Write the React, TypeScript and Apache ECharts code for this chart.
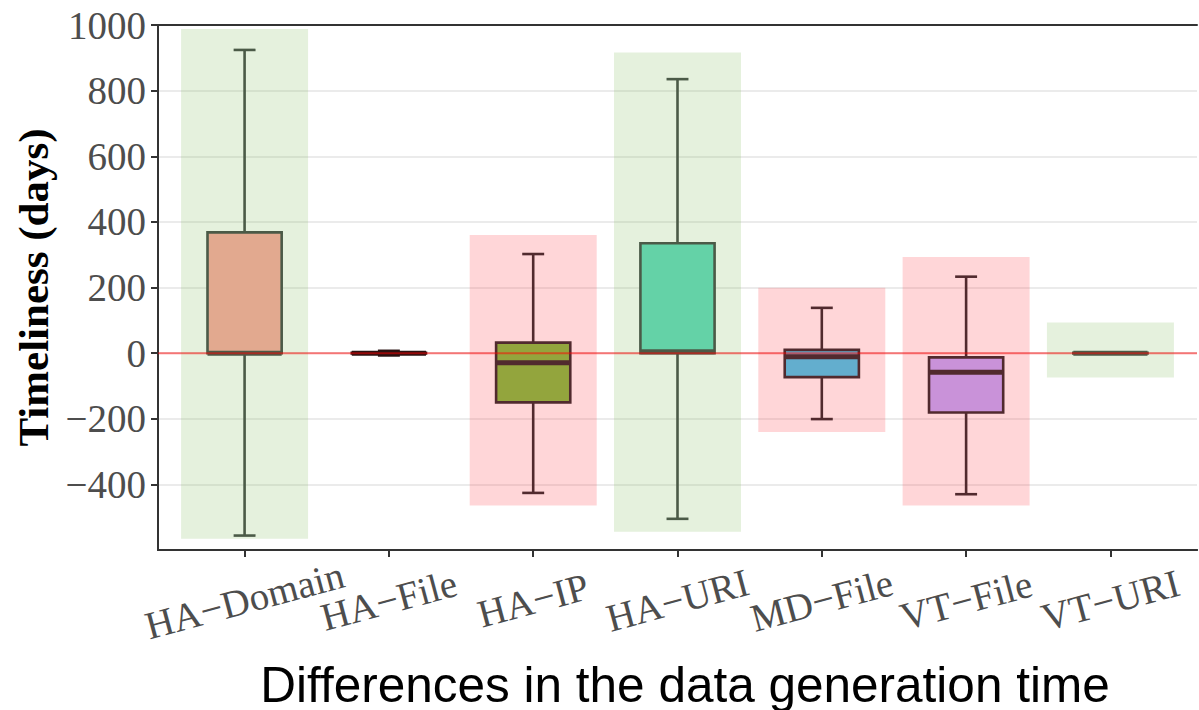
import React, { useEffect, useRef } from "react";
import * as echarts from "echarts";

const categories = ["HA\u2212Domain", "HA\u2212File", "HA\u2212IP", "HA\u2212URI", "MD\u2212File", "VT\u2212File", "VT\u2212URI"];
const whiskerLow = [-556, -7, -426, -505, -201, -430, 0];
const q1 = [0, -1, -150, 0, -73, -181, -1];
const median = [0, 0, -29, 4, -11, -58, 0];
const q3 = [368, 1, 32, 335, 10, -13, 1];
const whiskerHigh = [924, 7, 302, 835, 138, 233, 0];
const bandLow = [-566, null, -464, -544, -240, -464, -74];
const bandHigh = [988, null, 360, 916, 199, 293, 93];
const bandGroup = ["green", null, "pink", "green", "pink", "pink", "green"];
const boxFill = ["#e2a98f", "#5a1c1c", "#93a53d", "#64d2a7", "#63aece", "#c992d9", "#5f5a42"];
const boxLine = ["#4b5a47", "#2a1212", "#512a2e", "#4b5a47", "#512a2e", "#512a2e", "#4b5a47"];
const yTicks = [-400, -200, 0, 200, 400, 600, 800, 1000];
const xTickValuesA = [0, 2, 4, 6];
const xTickValuesB = [1, 3, 5];

const bandColors: Record<string, string> = {
  green: "rgba(125,185,85,0.2)",
  pink: "rgba(255,50,60,0.2)",
};

const serif = "'Liberation Serif', 'Times New Roman', serif";

function bottomAxis(values: number[]) {
  return {
    type: "value",
    position: "bottom",
    min: -0.6,
    max: 6.6,
    splitLine: { show: false },
    axisLine: { show: true, onZero: false, lineStyle: { color: "#333333", width: 2 } },
    axisTick: { show: true, customValues: values, length: 7, lineStyle: { color: "#333333", width: 2 } },
    axisLabel: {
      customValues: values,
      showMinLabel: true,
      showMaxLabel: true,
      hideOverlap: false,
      formatter: (v: number) => categories[Math.round(v)] ?? "",
      rotate: 15,
      align: "center",
      verticalAlign: "middle",
      margin: 50,
      fontFamily: serif,
      fontSize: 39,
      color: "#4d4d4d",
    },
  };
}

export default function App() {
  const ref = useRef<HTMLDivElement>(null);
  useEffect(() => {
    if (!ref.current) return;
    const chart = echarts.init(ref.current, undefined, { renderer: "svg" });
    const boxData = categories.map((_, i) => [i, whiskerLow[i], q1[i], median[i], q3[i], whiskerHigh[i]]);
    const bandData = categories
      .map((_, i) => (bandLow[i] == null ? null : [i, bandLow[i], bandHigh[i]]))
      .filter((d) => d != null);
    chart.setOption({
      animation: false,
      backgroundColor: "#ffffff",
      grid: { left: 158, right: 2, top: 25, bottom: 160 },
      xAxis: [
        bottomAxis(xTickValuesA),
        bottomAxis(xTickValuesB),
        {
          type: "value",
          position: "top",
          min: -0.6,
          max: 6.6,
          splitLine: { show: false },
          axisLine: { show: true, onZero: false, lineStyle: { color: "#333333", width: 2 } },
          axisTick: { show: false },
          axisLabel: { show: false },
        },
      ],
      yAxis: {
        type: "value",
        position: "left",
        min: -600,
        max: 1000,
        interval: 200,
        name: "Timeliness (days)",
        nameLocation: "middle",
        nameGap: 102,
        nameTextStyle: { fontFamily: serif, fontSize: 43, fontWeight: "bold", color: "#000000" },
        axisLine: { show: true, onZero: false, lineStyle: { color: "#333333", width: 2 } },
        axisTick: { show: true, customValues: yTicks, length: 7, lineStyle: { color: "#333333", width: 2 } },
        splitLine: { show: true, lineStyle: { color: "#ebebeb", width: 2 } },
        axisLabel: {
          customValues: yTicks,
          margin: 12,
          fontFamily: serif,
          fontSize: 39,
          color: "#4d4d4d",
          formatter: (v: number) => (v < 0 ? "\u2212" + Math.abs(v) : String(v)),
        },
      },
      series: [
        {
          type: "custom",
          name: "bands",
          z: 1,
          xAxisIndex: 0,
          data: bandData,
          encode: { x: 0, y: [1, 2] },
          renderItem: (params: any, api: any) => {
            const i = api.value(0);
            const unit = api.size([1, 0])[0];
            const half = unit * 0.44;
            const [cx, yLo] = api.coord([i, api.value(1)]);
            const yHi = api.coord([i, api.value(2)])[1];
            return {
              type: "rect",
              shape: { x: cx - half, y: yHi, width: half * 2, height: yLo - yHi },
              style: { fill: bandColors[bandGroup[i] as string] },
            };
          },
        },
        {
          type: "custom",
          name: "boxes",
          z: 3,
          xAxisIndex: 0,
          data: boxData,
          encode: { x: 0, y: [1, 2, 3, 4, 5] },
          renderItem: (params: any, api: any) => {
            const i = api.value(0);
            const unit = api.size([1, 0])[0];
            const half = unit * 0.257;
            const capHalf = unit * 0.076;
            const cx = api.coord([i, 0])[0];
            const yLow = api.coord([i, api.value(1)])[1];
            const yQ1 = api.coord([i, api.value(2)])[1];
            const yMed = api.coord([i, api.value(3)])[1];
            const yQ3 = api.coord([i, api.value(4)])[1];
            const yHigh = api.coord([i, api.value(5)])[1];
            const stroke = boxLine[i];
            const ls = { stroke, lineWidth: 2.6 };
            return {
              type: "group",
              children: [
                { type: "line", shape: { x1: cx, y1: yHigh, x2: cx, y2: yQ3 }, style: ls },
                { type: "line", shape: { x1: cx, y1: yQ1, x2: cx, y2: yLow }, style: ls },
                { type: "line", shape: { x1: cx - capHalf, y1: yHigh, x2: cx + capHalf, y2: yHigh }, style: ls },
                { type: "line", shape: { x1: cx - capHalf, y1: yLow, x2: cx + capHalf, y2: yLow }, style: ls },
                {
                  type: "rect",
                  shape: { x: cx - half, y: yQ3, width: half * 2, height: yQ1 - yQ3 },
                  style: { fill: boxFill[i], stroke, lineWidth: 2.6 },
                },
                { type: "line", shape: { x1: cx - half, y1: yMed, x2: cx + half, y2: yMed }, style: { stroke, lineWidth: 5 } },
              ],
            };
          },
        },
        {
          type: "line",
          name: "zero",
          z: 5,
          xAxisIndex: 0,
          symbol: "none",
          silent: true,
          data: [
            [-0.6, 0],
            [6.6, 0],
          ],
          lineStyle: { color: "rgba(255,0,0,0.5)", width: 2 },
        },
      ],
      graphic: [
        {
          type: "text",
          x: 685,
          y: 684,
          style: {
            text: "Differences in the data generation time",
            fontFamily: "'Liberation Sans', Arial, sans-serif",
            fontSize: 49.5,
            fill: "#000000",
            textAlign: "center",
            textVerticalAlign: "middle",
          },
        },
      ],
    });
    return () => chart.dispose();
  }, []);
  return <div ref={ref} style={{ position: "absolute", left: 0, top: 0, width: 1199, height: 710 }} />;
}
